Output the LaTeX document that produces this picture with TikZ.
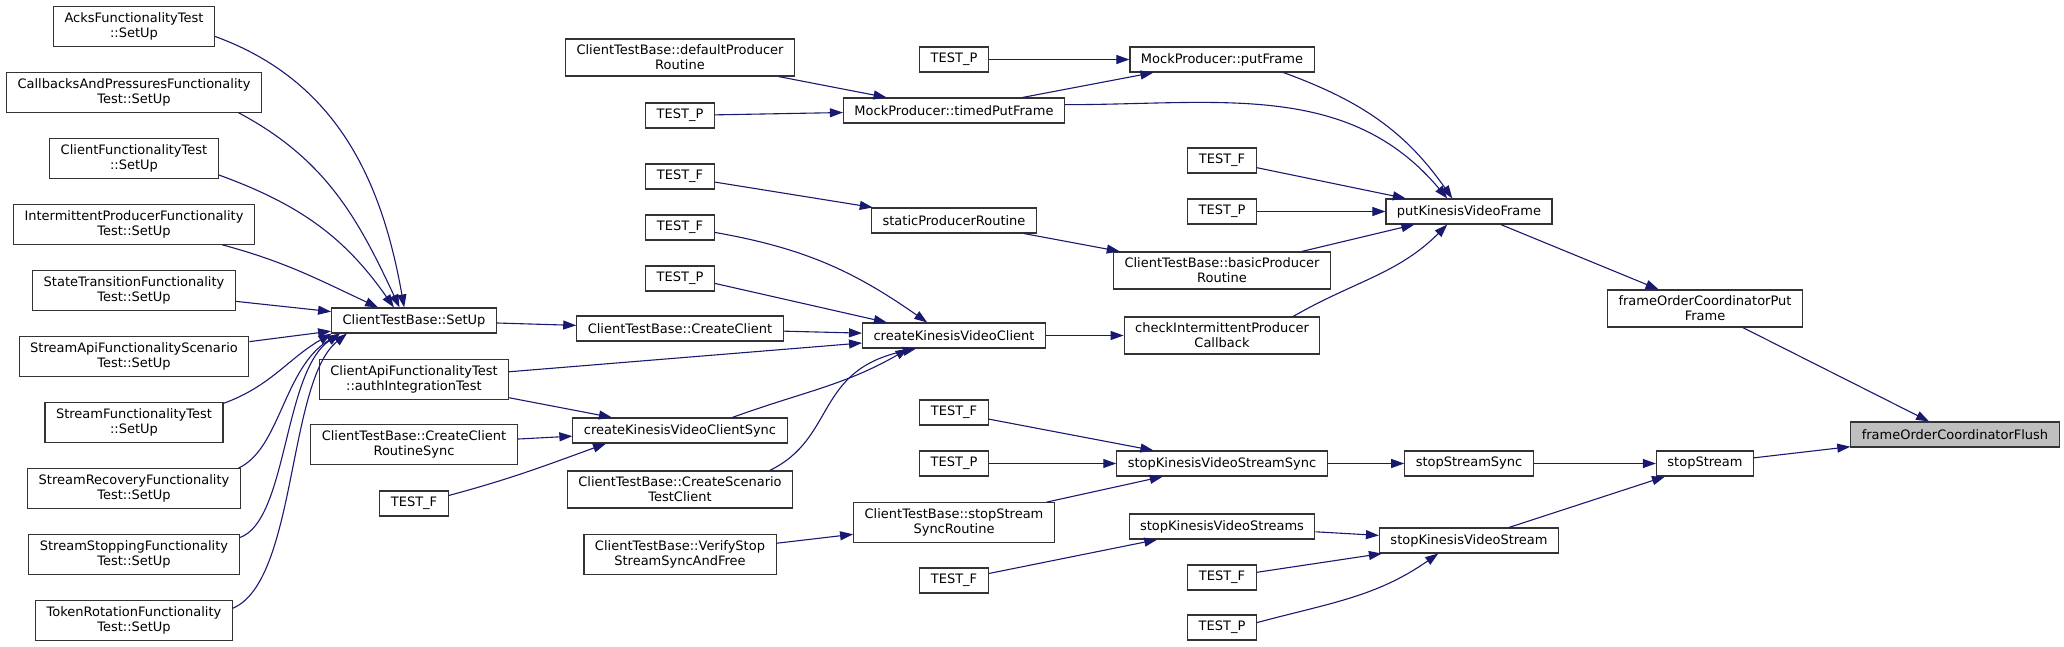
\documentclass[tikz,border=0pt]{standalone}
\usepackage{fontspec}
\setsansfont{DejaVu Sans}
\usetikzlibrary{arrows.meta,positioning}
\definecolor{midnight}{HTML}{191970}

\begin{document}
\begin{tikzpicture}[
  x=1pt, y=1pt,
  node distance=25.3pt,
  every node/.style={align=center, font=\sffamily\fontsize{13}{15}\selectfont},
  box/.style={draw=black!80, line width=1.1pt, fill=white, inner xsep=11pt, inner ysep=6pt, minimum height=25pt},
  hit/.style={box, fill=black!25},
  arrow/.style={-{Triangle[length=13pt, width=9pt]}, draw=midnight, line width=1.1pt}
]
  \useasboundingbox (0,0.5) rectangle (2064,-645.5);

  % Fixture SetUp callers
  \node[box] (acks) at (134,-26) {AcksFunctionalityTest\\::SetUp};
  \node[box, below=of acks] (callbacks) {CallbacksAndPressuresFunctionality\\Test::SetUp};
  \node[box, below=of callbacks] (clientfunc) {ClientFunctionalityTest\\::SetUp};
  \node[box, below=of clientfunc] (intermittent) {IntermittentProducerFunctionality\\Test::SetUp};
  \node[box, below=of intermittent] (statetrans) {StateTransitionFunctionality\\Test::SetUp};
  \node[box, below=of statetrans] (streamapi) {StreamApiFunctionalityScenario\\Test::SetUp};
  \node[box, below=of streamapi] (streamfunc) {StreamFunctionalityTest\\::SetUp};
  \node[box, below=of streamfunc] (streamrecov) {StreamRecoveryFunctionality\\Test::SetUp};
  \node[box, below=of streamrecov] (streamstop) {StreamStoppingFunctionality\\Test::SetUp};
  \node[box, below=of streamstop] (tokenrot) {TokenRotationFunctionality\\Test::SetUp};

  % Client test base
  \node[box] (setup) at (414,-320) {ClientTestBase::SetUp};
  \node[box] (authtest) at (414,-379) {ClientApiFunctionalityTest\\::authIntegrationTest};
  \node[box] (routinesync) at (414,-444) {ClientTestBase::CreateClient\\RoutineSync};
  \node[box] (testfa) at (414,-503) {TEST\_F};

  \node[box] (defprod) at (680,-57) {ClientTestBase::defaultProducer\\Routine};
  \node[box] (testpa) at (680,-115) {TEST\_P};
  \node[box] (testfb) at (680,-176) {TEST\_F};
  \node[box] (testfc) at (680,-227) {TEST\_F};
  \node[box] (testpb) at (680,-278) {TEST\_P};
  \node[box] (createclient) at (680,-328) {ClientTestBase::CreateClient};
  \node[box] (clientsync) at (680,-430) {createKinesisVideoClientSync};
  \node[box] (scenario) at (680,-489) {ClientTestBase::CreateScenario\\TestClient};
  \node[box] (verifystop) at (680,-554) {ClientTestBase::VerifyStop\\StreamSyncAndFree};

  % Producer and client level
  \node[box] (testpc) at (954,-59) {TEST\_P};
  \node[box] (timedput) at (954,-110) {MockProducer::timedPutFrame};
  \node[box] (staticprod) at (954,-220) {staticProducerRoutine};
  \node[box] (createkvc) at (954,-335) {createKinesisVideoClient};
  \node[box] (testfd) at (954,-412) {TEST\_F};
  \node[box] (testpd) at (954,-463) {TEST\_P};
  \node[box] (syncroutine) at (954,-522) {ClientTestBase::stopStream\\SyncRoutine};
  \node[box] (testfe) at (954,-580) {TEST\_F};

  \node[box] (putframe) at (1222,-59) {MockProducer::putFrame};
  \node[box] (testff) at (1222,-160) {TEST\_F};
  \node[box] (testpe) at (1222,-211) {TEST\_P};
  \node[box] (basicprod) at (1222,-270) {ClientTestBase::basicProducer\\Routine};
  \node[box] (checkinter) at (1222,-335) {checkIntermittentProducer\\Callback};
  \node[box] (stopsync) at (1222,-463) {stopKinesisVideoStreamSync};
  \node[box] (stopstreams) at (1222,-526) {stopKinesisVideoStreams};
  \node[box] (testfg) at (1222,-577) {TEST\_F};
  \node[box] (testpf) at (1222,-627) {TEST\_P};

  % Stream level
  \node[box] (putkvf) at (1469,-211) {putKinesisVideoFrame};
  \node[box] (streamsync) at (1469,-463) {stopStreamSync};
  \node[box] (stopkvs) at (1469,-540) {stopKinesisVideoStream};

  \node[box] (putcoord) at (1705,-308) {frameOrderCoordinatorPut\\Frame};
  \node[box] (stopstream) at (1705,-463) {stopStream};
  \node[hit] (flush) at (1955,-434) {frameOrderCoordinatorFlush};

  % Into ClientTestBase::SetUp
  \draw[arrow] (acks.-7) to[out=-20, in=100] (setup.127);
  \draw[arrow] (callbacks.-11) to[out=-28, in=115] (setup.138);
  \draw[arrow] (clientfunc.-11) to[out=-20, in=125] (setup.147);
  \draw[arrow] (intermittent.-13) to[out=-15, in=155] (setup.160);
  \draw[arrow] (statetrans) -- (setup);
  \draw[arrow] (streamapi) -- (setup);
  \draw[arrow] (streamfunc.12) to[out=20, in=210] (setup.189);
  \draw[arrow] (streamrecov.11) to[out=25, in=211, out looseness=0.7] (setup.190);
  \draw[arrow] (streamstop.9) to[out=19, in=214, out looseness=0.57, in looseness=0.77] (setup.190);
  \draw[arrow] (tokenrot.7) to[out=23, in=219, out looseness=0.6, in looseness=0.66] (setup.191);

  % Client creation
  \draw[arrow] (setup) -- (createclient);
  \draw[arrow] (createclient) -- (createkvc);
  \draw[arrow] (authtest) -- (createkvc);
  \draw[arrow] (authtest) -- (clientsync);
  \draw[arrow] (routinesync) -- (clientsync);
  \draw[arrow] (testfa.13) to[out=15, in=200] (clientsync.190);
  \draw[arrow] (clientsync.14) to[out=20, in=210] (createkvc.196);
  \draw[arrow] (scenario.12) to[out=26, in=192, in looseness=1.4] (createkvc.199);
  \draw[arrow] (testfc.-8) to[out=-10, in=145] (createkvc.154);
  \draw[arrow] (testpb.-8) -- (createkvc.169);
  \draw[arrow] (createkvc) -- (checkinter);

  % Frame producers
  \draw[arrow] (defprod) -- (timedput);
  \draw[arrow] (testpa) -- (timedput);
  \draw[arrow] (testfb) -- (staticprod);
  \draw[arrow] (staticprod) -- (basicprod);
  \draw[arrow] (testpc) -- (putframe);
  \draw[arrow] (timedput) -- (putframe);
  \draw[arrow] (timedput.3) to[out=0, in=130] (putkvf.149);
  \draw[arrow] (putframe.-12) to[out=-20, in=125] (putkvf.142);
  \draw[arrow] (testff) -- (putkvf);
  \draw[arrow] (testpe) -- (putkvf);
  \draw[arrow] (basicprod) -- (putkvf);
  \draw[arrow] (checkinter.15) to[out=30, in=225] (putkvf.211);
  \draw[arrow] (putkvf) -- (putcoord);
  \draw[arrow] (putcoord) -- (flush);

  % Stream stopping
  \draw[arrow] (testfd) -- (stopsync);
  \draw[arrow] (testpd) -- (stopsync);
  \draw[arrow] (syncroutine) -- (stopsync);
  \draw[arrow] (verifystop) -- (syncroutine);
  \draw[arrow] (stopsync) -- (streamsync);
  \draw[arrow] (streamsync) -- (stopstream);
  \draw[arrow] (testfe) -- (stopstreams);
  \draw[arrow] (stopstreams) -- (stopkvs);
  \draw[arrow] (testfg) -- (stopkvs);
  \draw[arrow] (testpf.8) to[out=15, in=215] (stopkvs.203);
  \draw[arrow] (stopkvs) -- (stopstream);
  \draw[arrow] (stopstream) -- (flush);
\end{tikzpicture}
\end{document}
